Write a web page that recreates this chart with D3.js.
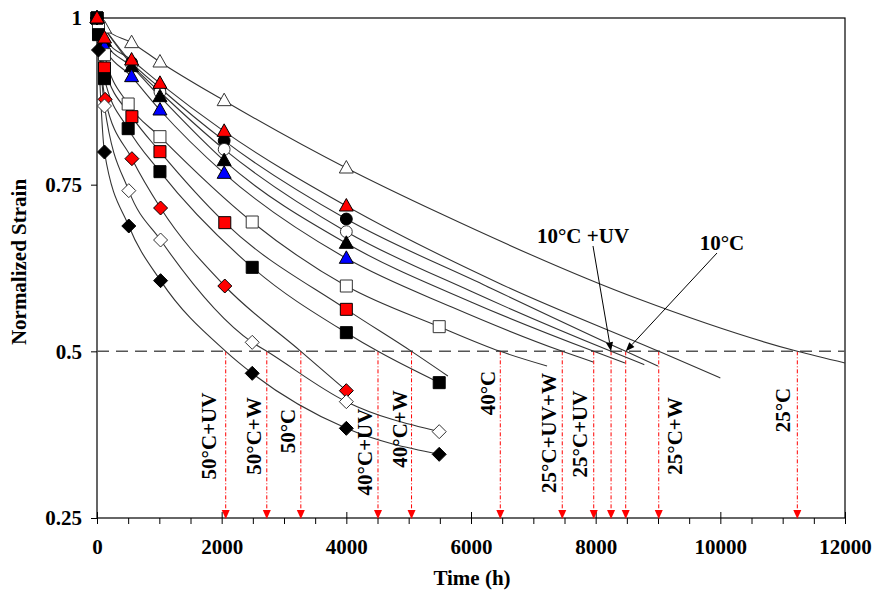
<!DOCTYPE html>
<html>
<head>
<meta charset="utf-8">
<script src="https://cdn.jsdelivr.net/npm/d3@7"></script>
<style>
  body { margin: 0; background: #fff; }
  svg { display: block; }
  text { font-family: "Liberation Serif", "Times New Roman", serif; font-weight: bold; fill: #000; }
</style>
</head>
<body>
<svg id="chart" width="875" height="590"></svg>
<script>
// ---- data -------------------------------------------------------------
const xTicks = [0, 2000, 4000, 6000, 8000, 10000, 12000];
const yTicks = [0.25, 0.5, 0.75, 1];

const seriesNames = ["25°C", "25°C+W", "10°C", "10°C+UV", "25°C+UV", "25°C+UV+W",
                     "40°C", "40°C+W", "40°C+UV", "50°C", "50°C+W", "50°C+UV"];
// text of the two arrow callouts (10°C+UV, 10°C)
const calloutTexts = ["10°C +UV", "10°C"];

// measured normalized strain, [time (h), value]
const pts25C    = [[0,1],[120,0.985],[555,0.963],[1010,0.934],[2040,0.876],[4000,0.775]];
const pts25CW   = [[0,1],[120,0.970],[555,0.937],[1010,0.902],[2040,0.830],[4000,0.718]];
const pts10C    = [[0,1],[555,0.933],[1010,0.895],[2040,0.816],[4000,0.6985]];
const pts10CUV  = [[0,1],[555,0.930],[1010,0.889],[2040,0.803],[4000,0.6795]];
const pts25CUV  = [[0,1],[120,0.965],[555,0.927],[1010,0.882],[2040,0.786],[4000,0.662]];
const pts25CUVW = [[0,1],[120,0.957],[555,0.912],[1010,0.862],[2040,0.767],[4000,0.6395]];
const pts40C    = [[0,1],[24,0.985],[120,0.945],[500,0.871],[1010,0.822],[2490,0.694],[4000,0.598],[5490,0.537]];
const pts40CW   = [[0,1],[120,0.925],[560,0.852],[1010,0.7995],[2050,0.693],[4000,0.563]];
const pts40CUV  = [[0,1],[24,0.975],[120,0.909],[500,0.834],[1010,0.7695],[2490,0.626],[4000,0.528],[5490,0.453]];
const pts50C    = [[0,1],[130,0.878],[560,0.789],[1020,0.715],[2050,0.598],[4000,0.441]];
const pts50CW   = [[0,1],[120,0.868],[510,0.741],[1020,0.667],[2490,0.5135],[4000,0.4245],[5490,0.3795]];
const pts50CUV  = [[0,1],[24,0.952],[120,0.799],[510,0.688],[1020,0.606],[2490,0.467],[4000,0.3845],[5490,0.3455]];

// time (h) at which each fitted curve reaches 0.5
const halfTimes = [11235, 9012, 8482, 8247, 7969, 7464, 6470, 5046, 4508, 3270, 2724, 2065];

// fitted-curve extension beyond the last measurement
const tail25C    = [[5500,0.707],[8700,0.578],[12000,0.4825]];
const tail25CW   = [[6500,0.600],[10000,0.460]];
const tail10C    = [[6200,0.600],[9000,0.478]];
const tail10CUV  = [[6000,0.590],[8780,0.480]];
const tail25CUV  = [[6000,0.574],[8470,0.4825]];
const tail25CUVW = [[5700,0.566],[7960,0.484]];
const tail40C    = [[7220,0.478]];
const tail40CW   = [[5630,0.463]];
const tail40CUV  = [];
const tail50C    = [];
const tail50CW   = [];
const tail50CUV  = [];

const allPts  = [pts25C, pts25CW, pts10C, pts10CUV, pts25CUV, pts25CUVW, pts40C, pts40CW, pts40CUV, pts50C, pts50CW, pts50CUV];
const allTail = [tail25C, tail25CW, tail10C, tail10CUV, tail25CUV, tail25CUVW, tail40C, tail40CW, tail40CUV, tail50C, tail50CW, tail50CUV];

// ---- styling ----------------------------------------------------------
const markerShape = ["triangle","triangle","circle","circle","triangle","triangle",
                     "square","square","square","diamond","diamond","diamond"];
const markerFill  = ["#fff","#ff0000","#000","#fff","#000","#0000ff",
                     "#fff","#ff0000","#000","#ff0000","#fff","#000"];
// drawing order of the marker layers (last on top)
const markerOrder = [0, 2, 3, 4, 5, 6, 7, 8, 9, 10, 11, 1];

// rotated half-life labels: offset from the arrow and vertical centre
const labelDx = [-15, 16, 0, 0, -14, -14, -13, -12, -13, -13, -13, -17];
const labelCy = [410, 436, 0, 0, 434, 433, 393, 429, 452, 431, 436, 436];

// ---- chart ------------------------------------------------------------
const svg = d3.select("#chart");
const x = d3.scaleLinear().domain([0, 12000]).range([97, 845]);
const y = d3.scaleLinear().domain([0.25, 1]).range([518, 18]);

svg.append("rect").attr("width", 875).attr("height", 590).attr("fill", "#fff");

// y axis
const yAxis = svg.append("g").attr("transform", `translate(${x(0)},0)`)
  .call(d3.axisLeft(y).tickValues(yTicks).tickSize(6).tickPadding(9).tickFormat(d => String(d)));
yAxis.select(".domain").remove();
yAxis.selectAll("text").style("font-size", "21px").attr("font-family", null);
yAxis.selectAll("line").attr("stroke", "#000");

// x axis: labelled major ticks and unlabelled minor ticks
const xAxis = svg.append("g").attr("transform", `translate(0,${y(0.25)})`)
  .call(d3.axisBottom(x).tickValues(xTicks).tickSize(6).tickPadding(15).tickFormat(d => String(d)));
xAxis.select(".domain").remove();
xAxis.selectAll("text").style("font-size", "21px").attr("font-family", null);
xAxis.selectAll("line").attr("stroke", "#000").attr("y1", -6);

const xMinor = svg.append("g").attr("transform", `translate(0,${y(0.25)})`)
  .call(d3.axisBottom(x).tickValues(d3.range(500, 12000, 500).filter(v => v % 2000 !== 0))
        .tickSize(6).tickFormat(""));
xMinor.select(".domain").remove();
xMinor.selectAll("line").attr("stroke", "#000");

// plot frame
svg.append("rect")
  .attr("x", x(0)).attr("y", y(1))
  .attr("width", x(12000) - x(0)).attr("height", y(0.25) - y(1))
  .attr("fill", "none").attr("stroke", "#000").attr("stroke-width", 1.2);

// axis titles
svg.append("text").attr("x", 472).attr("y", 585).attr("text-anchor", "middle")
  .style("font-size", "21px").text("Time (h)");
svg.append("text").attr("transform", "translate(26,262) rotate(-90)")
  .attr("text-anchor", "middle").style("font-size", "21px").text("Normalized Strain");

// 0.5 reference line
svg.append("line")
  .attr("x1", x(0)).attr("x2", x(12000)).attr("y1", y(0.5)).attr("y2", y(0.5))
  .attr("stroke", "#555").attr("stroke-width", 1.5).attr("stroke-dasharray", "12,7");

// half-life drop lines
const drops = svg.append("g");
halfTimes.forEach(t => {
  const px = x(t);
  drops.append("line")
    .attr("x1", px).attr("x2", px).attr("y1", y(0.5)).attr("y2", y(0.25) - 6)
    .attr("stroke", "#ff0000").attr("stroke-width", 1).attr("stroke-dasharray", "4,2,1,2");
  drops.append("path")
    .attr("d", `M${px - 4},${y(0.25) - 8} L${px + 4},${y(0.25) - 8} L${px},${y(0.25) + 1} Z`)
    .attr("fill", "#ff0000");
});

// fitted curves
const line = d3.line().x(d => x(d[0])).y(d => y(d[1])).curve(d3.curveMonotoneX);
allPts.forEach((pts, i) => {
  const nodes = pts.filter(d => d[0] === 0 || d[0] >= 100)
    .concat([[halfTimes[i], 0.5]])
    .concat(allTail[i])
    .sort((a, b) => a[0] - b[0]);
  svg.append("path").attr("d", line(nodes))
    .attr("fill", "none").attr("stroke", "#333").attr("stroke-width", 1.1);
});

// markers
function markerPath(shape) {
  if (shape === "triangle") return "M0,-7.5 L7,5 L-7,5 Z";
  if (shape === "square") return "M-6,-6 L6,-6 L6,6 L-6,6 Z";
  if (shape === "diamond") return "M0,-7 L7,0 L0,7 L-7,0 Z";
  return d3.symbol(d3.symbolCircle, 110)();
}
markerOrder.forEach(i => {
  svg.append("g").selectAll("path").data(allPts[i]).join("path")
    .attr("transform", d => `translate(${x(d[0])},${y(d[1])})`)
    .attr("d", markerPath(markerShape[i]))
    .attr("fill", markerFill[i])
    .attr("stroke", markerFill[i] === "#fff" ? "#333" : "#000")
    .attr("stroke-width", 1);
});

// rotated half-life labels
seriesNames.forEach((name, i) => {
  if (labelCy[i] === 0) return;
  const px = x(halfTimes[i]) + labelDx[i];
  svg.append("text")
    .attr("transform", `translate(${px},${labelCy[i]}) rotate(-90)`)
    .attr("text-anchor", "middle").attr("dy", "0.35em")
    .style("font-size", "21px").text(name);
});

// callouts for the 10°C series
function callout(name, tx, ty, sx, sy, t) {
  svg.append("text").attr("x", tx).attr("y", ty).attr("text-anchor", "middle")
    .style("font-size", "21px").text(name);
  const ex = x(t), ey = y(0.5);
  const ang = Math.atan2(ey - sy, ex - sx);
  const len = 9, hw = 3.5;
  const bx = ex - len * Math.cos(ang), by = ey - len * Math.sin(ang);
  svg.append("line").attr("x1", sx).attr("y1", sy).attr("x2", bx).attr("y2", by)
    .attr("stroke", "#000").attr("stroke-width", 1);
  svg.append("path")
    .attr("d", `M${ex},${ey} L${bx - hw * Math.sin(ang)},${by + hw * Math.cos(ang)} L${bx + hw * Math.sin(ang)},${by - hw * Math.cos(ang)} Z`)
    .attr("fill", "#000");
}
callout(calloutTexts[0], 583, 243, 593, 246, halfTimes[3]);
callout(calloutTexts[1], 722, 250, 717, 253, halfTimes[2]);
</script>
</body>
</html>
